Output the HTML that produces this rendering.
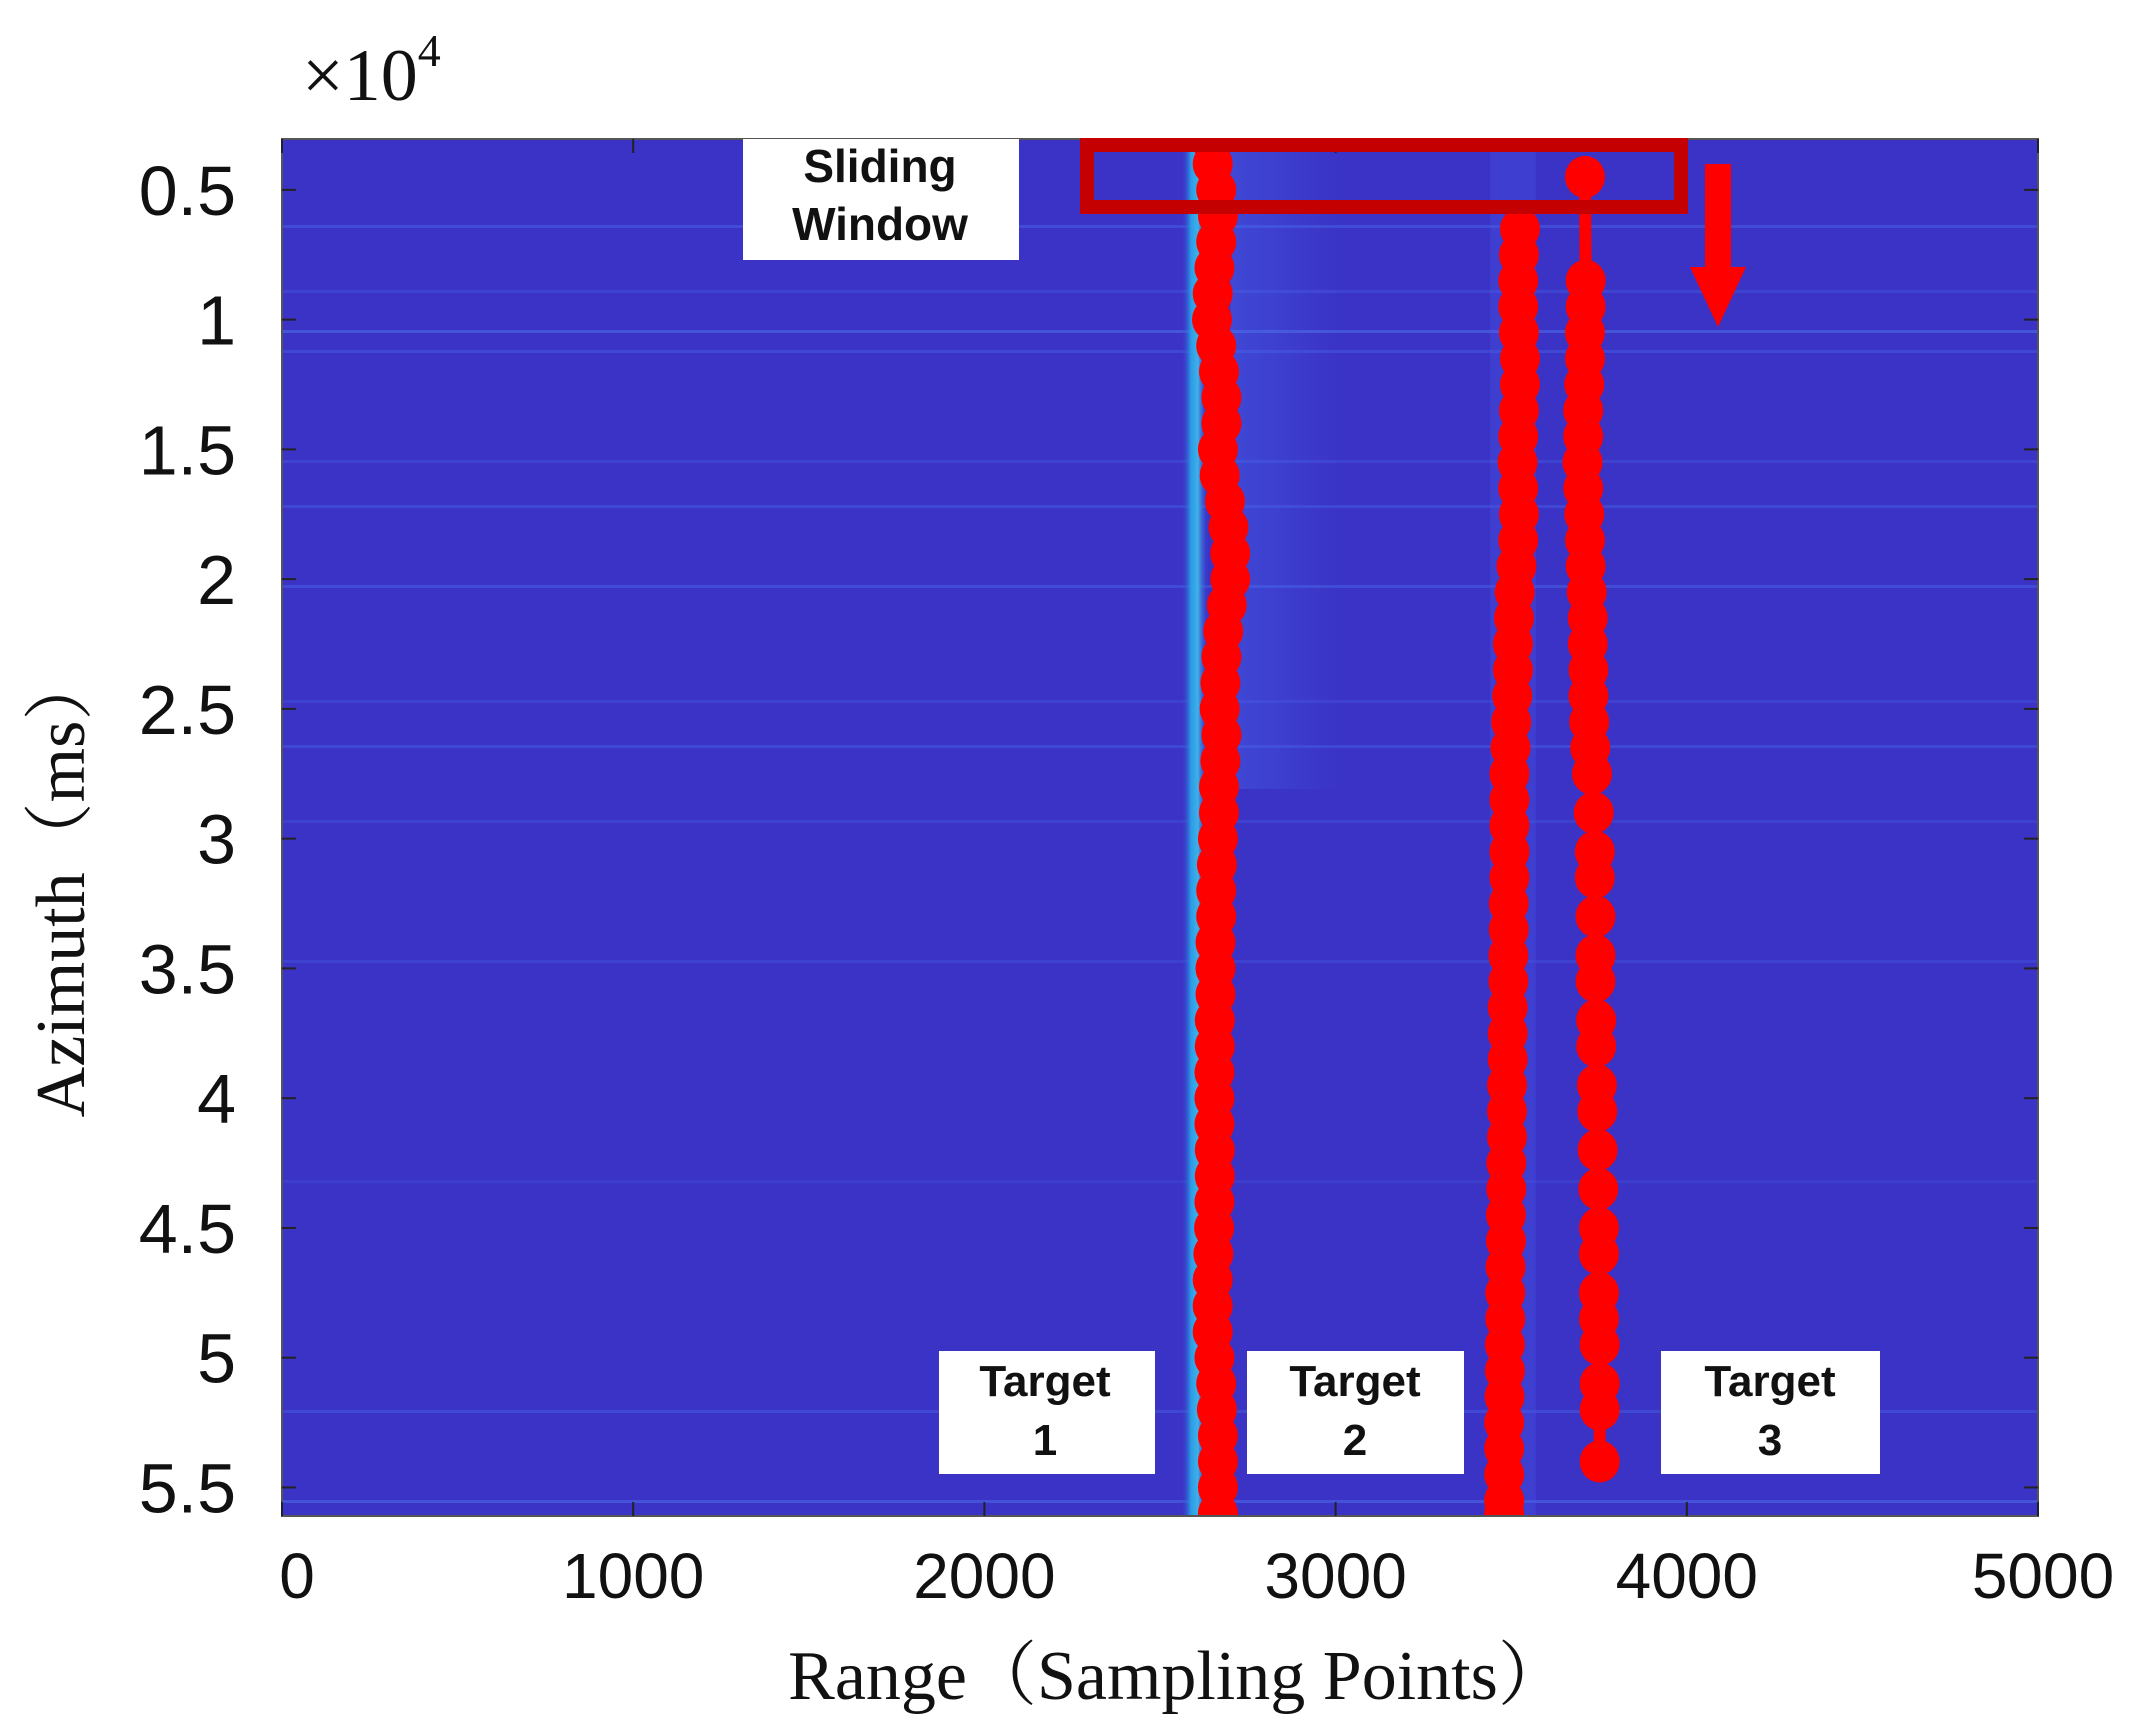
<!DOCTYPE html>
<html><head><meta charset="utf-8"><style>
html,body{margin:0;padding:0;background:#fff;}
svg{display:block;}
</style></head><body>
<svg id="chart" width="2155" height="1735" viewBox="0 0 2155 1735" xmlns="http://www.w3.org/2000/svg">
<defs>
<linearGradient id="glow" x1="0" x2="1" y1="0" y2="0">
<stop offset="0" stop-color="#3a33c6" stop-opacity="0"/>
<stop offset="0.35" stop-color="#2a9be6"/>
<stop offset="0.6" stop-color="#3fb0e8"/>
<stop offset="1" stop-color="#3a33c6" stop-opacity="0"/>
</linearGradient>
<linearGradient id="halo" x1="0" x2="1" y1="0" y2="0">
<stop offset="0" stop-color="#4a6ff0" stop-opacity="0.35"/>
<stop offset="1" stop-color="#4a6ff0" stop-opacity="0"/>
</linearGradient>
<clipPath id="plotclip"><rect x="282" y="139" width="1756" height="1377"/></clipPath>
</defs>
<rect x="282" y="139" width="1756" height="1377" fill="#3a33c6"/>
<g id="streaks" clip-path="url(#plotclip)"></g>
<g id="marks" clip-path="url(#plotclip)"></g>
<rect x="282" y="139" width="1756" height="1377" fill="none" stroke="#555" stroke-width="2"/>
<g id="ticks"></g>
<g id="xlabels" font-family="Liberation Sans, sans-serif" font-size="64" fill="#111" text-anchor="middle"></g>
<g id="ylabels" font-family="Liberation Sans, sans-serif" font-size="70" fill="#111" text-anchor="end"></g>
<text x="302" y="100" font-family="Liberation Serif, serif" font-size="74" fill="#111">×10<tspan dy="-34" font-size="46">4</tspan></text>
<text x="1178" y="1699" font-family="Liberation Serif, 'Noto Serif CJK SC', serif" font-size="70" fill="#111" text-anchor="middle">Range（Sampling Points）</text>
<text transform="translate(84,884) rotate(-90)" font-family="Liberation Serif, 'Noto Serif CJK SC', serif" font-size="70" fill="#111" text-anchor="middle">Azimuth（ms）</text>
<g>
<rect x="743" y="139" width="276" height="121" fill="#fff"/>
<text x="880" y="182" font-family="Liberation Sans, sans-serif" font-weight="bold" font-size="46" fill="#111" text-anchor="middle">Sliding</text>
<text x="880" y="240" font-family="Liberation Sans, sans-serif" font-weight="bold" font-size="46" fill="#111" text-anchor="middle">Window</text>
</g>
<g>
<rect x="939" y="1351" width="216" height="123" fill="#fff"/>
<text x="1045" y="1396" font-family="Liberation Sans, sans-serif" font-weight="bold" font-size="44" fill="#111" text-anchor="middle">Target</text>
<text x="1045" y="1455" font-family="Liberation Sans, sans-serif" font-weight="bold" font-size="44" fill="#111" text-anchor="middle">1</text>
</g>
<g>
<rect x="1247" y="1351" width="217" height="123" fill="#fff"/>
<text x="1355" y="1396" font-family="Liberation Sans, sans-serif" font-weight="bold" font-size="44" fill="#111" text-anchor="middle">Target</text>
<text x="1355" y="1455" font-family="Liberation Sans, sans-serif" font-weight="bold" font-size="44" fill="#111" text-anchor="middle">2</text>
</g>
<g>
<rect x="1661" y="1351" width="219" height="123" fill="#fff"/>
<text x="1770" y="1396" font-family="Liberation Sans, sans-serif" font-weight="bold" font-size="44" fill="#111" text-anchor="middle">Target</text>
<text x="1770" y="1455" font-family="Liberation Sans, sans-serif" font-weight="bold" font-size="44" fill="#111" text-anchor="middle">3</text>
</g>
<rect x="1087" y="145" width="594" height="62" fill="none" stroke="#c40000" stroke-width="14"/>
<g>
<rect x="1705" y="164" width="26" height="104" fill="#ff0000"/>
<polygon points="1690,267 1746,267 1718,327" fill="#ff0000"/>
</g>
</svg>
<script>
const xTicks = [0, 1000, 2000, 3000, 4000, 5000];
const xTickLabels = ["0", "1000", "2000", "3000", "4000", "5000"];
const yTicks = [5000, 10000, 15000, 20000, 25000, 30000, 35000, 40000, 45000, 50000, 55000];
const yTickLabels = ["0.5", "1", "1.5", "2", "2.5", "3", "3.5", "4", "4.5", "5", "5.5"];
const target1Az = [3000,4000,5000,6000,7000,8000,9000,10000,11000,12000,13000,14000,15000,16000,17000,18000,19000,20000,21000,22000,23000,24000,25000,26000,27000,28000,29000,30000,31000,32000,33000,34000,35000,36000,37000,38000,39000,40000,41000,42000,43000,44000,45000,46000,47000,48000,49000,50000,51000,52000,53000,54000,55000,56000];
const target1Range = [2640,2650,2660,2665,2660,2655,2650,2648,2660,2668,2675,2675,2665,2670,2685,2695,2700,2700,2690,2680,2675,2672,2670,2675,2672,2668,2668,2665,2662,2660,2660,2658,2658,2658,2656,2656,2655,2655,2655,2656,2656,2655,2654,2652,2650,2650,2650,2655,2660,2662,2665,2665,2665,2665];
const target2Az = [6500,7500,8500,9500,10500,11500,12500,13500,14500,15500,16500,17500,18500,19500,20500,21500,22500,23500,24500,25500,26500,27500,28500,29500,30500,31500,32500,33500,34500,35500,36500,37500,38500,39500,40500,41500,42500,43500,44500,45500,46500,47500,48500,49500,50500,51500,52500,53500,54500,55500,56000];
const target2Range = [3525,3522,3520,3520,3522,3525,3525,3522,3520,3518,3520,3522,3520,3515,3510,3508,3505,3505,3503,3500,3498,3495,3495,3495,3495,3495,3493,3493,3492,3492,3490,3490,3490,3488,3488,3488,3486,3486,3485,3485,3484,3483,3483,3482,3482,3481,3480,3480,3480,3480,3480];
const target3Az = [4500,8500,9500,10500,11500,12500,13500,14500,15500,16500,17500,18500,19500,20500,21500,22500,23500,24500,25500,26500,27500,29000,30500,31500,33000,34500,35500,37000,38000,39500,40500,42000,43500,45000,46000,47500,48500,49500,51000,52000,54000];
const target3Range = [3710,3712,3712,3710,3710,3708,3705,3705,3703,3705,3708,3710,3712,3715,3718,3718,3720,3720,3722,3725,3730,3735,3738,3738,3740,3740,3740,3742,3742,3744,3745,3746,3748,3750,3750,3750,3750,3752,3752,3752,3752];

const X0 = 282, X1 = 2038, Y0 = 139, Y1 = 1516;
const yMin = 3040, yMax = 56100;
function sx(v){ return X0 + (v - 0) / 5000 * (X1 - X0); }
function sy(v){ return Y0 + (v - yMin) / (yMax - yMin) * (Y1 - Y0); }
const NS = "http://www.w3.org/2000/svg";
function mk(tag, attrs, parent){ const e = document.createElementNS(NS, tag); for (const k in attrs) e.setAttribute(k, attrs[k]); parent.appendChild(e); return e; }

const streaks = document.getElementById('streaks');
const streakRows = [[225,0.35],[290,0.25],[330,0.5],[350,0.3],[460,0.25],[505,0.3],[585,0.35],[700,0.2],[745,0.3],[820,0.2],[960,0.2],[1180,0.15],[1410,0.3],[1500,0.45]];
streakRows.forEach(function(r){
  const s = mk('rect', {x: X0, y: r[0], width: X1 - X0, height: 3, fill: '#4f78f0', opacity: r[1]}, streaks);
  
  
});
const halo = mk('rect', {x: sx(2700), y: Y0, width: 110, height: 650, fill: 'url(#halo)'}, streaks);



const marks = document.getElementById('marks');
const glow1 = mk('rect', {x: sx(2560), y: Y0, width: sx(2640) - sx(2560), height: Y1 - Y0, fill: 'url(#glow)'}, marks);


const glow2 = mk('rect', {x: sx(3440), y: Y0, width: sx(3570) - sx(3440), height: Y1 - Y0, fill: '#4a5ae8', opacity: 0.3}, marks);



function drawTrack(az, rg, name){
  const g = mk('g', {}, marks);
  
  
  let d = '';
  for (let i = 0; i < az.length; i++) d += (i ? 'L' : 'M') + sx(rg[i]).toFixed(1) + ',' + sy(az[i]).toFixed(1);
  const p = mk('path', {d: d, fill: 'none', stroke: '#ff0000', 'stroke-width': 12}, g);
  
  
  for (let i = 0; i < az.length; i++){
    const c = mk('ellipse', {cx: sx(rg[i]), cy: sy(az[i]), rx: 20, ry: 21, fill: '#ff0000'}, g);
    
    
  }
}
drawTrack(target1Az, target1Range, 'target-1-track');
drawTrack(target2Az, target2Range, 'target-2-track');
drawTrack(target3Az, target3Range, 'target-3-track');

const ticks = document.getElementById('ticks');
const xl = document.getElementById('xlabels');
xTicks.forEach(function(v, i){
  const x = sx(v);
  const t1 = mk('line', {x1: x, x2: x, y1: Y1, y2: Y1 - 14, stroke: '#222', 'stroke-width': 2}, ticks);
  
  
  const t2 = mk('line', {x1: x, x2: x, y1: Y0, y2: Y0 + 14, stroke: '#222', 'stroke-width': 2}, ticks);
  
  
  const tx = mk('text', {x: i === 0 ? x + 15 : (i === xTicks.length - 1 ? x + 5 : x), y: 1598}, xl);
  tx.textContent = xTickLabels[i];
  
  
});
const yl = document.getElementById('ylabels');
yTicks.forEach(function(v, i){
  const y = sy(v);
  const t1 = mk('line', {x1: X0, x2: X0 + 14, y1: y, y2: y, stroke: '#222', 'stroke-width': 2}, ticks);
  
  
  const t2 = mk('line', {x1: X1, x2: X1 - 14, y1: y, y2: y, stroke: '#222', 'stroke-width': 2}, ticks);
  
  
  const tx = mk('text', {x: 236, y: y + 25}, yl);
  tx.textContent = yTickLabels[i];
  
  
});
</script>
</body></html>
